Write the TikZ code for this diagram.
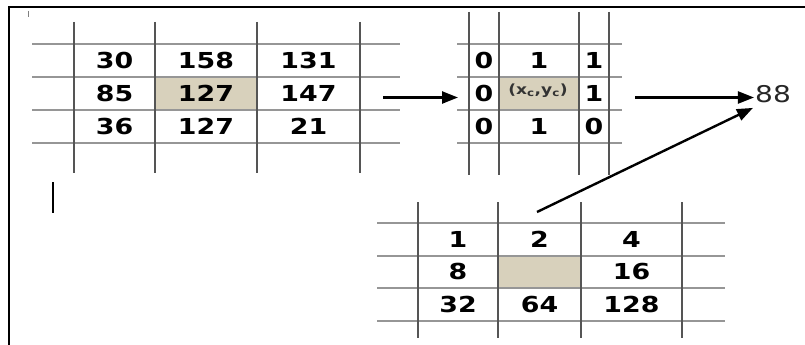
\documentclass[tikz,border=0pt]{standalone}
\usepackage{fontspec}
\newfontfamily\numfont{DejaVu Sans}[FakeStretch=1.22]
\usetikzlibrary{arrows.meta}
\definecolor{cellbg}{RGB}{216,209,188}
\definecolor{hline}{RGB}{150,150,150}
\definecolor{vline}{RGB}{85,85,85}

\begin{document}
\begin{tikzpicture}[x=1pt,y=-1pt,
    num/.style={font=\numfont\bfseries\fontsize{22}{22}\selectfont,inner sep=0pt},
    hrule/.style={draw=hline,line width=1.2pt},
    vrule/.style={draw=vline,line width=1.2pt},
    arr/.style={line width=2.4pt,-{Triangle[length=16pt,width=12pt]}}]
  \useasboundingbox (0,0) rectangle (805,345);
  % frame and cursor marks
  \draw[line width=2pt] (9,345) -- (9,7) -- (805,7);
  \draw[line width=1.6pt] (53,182) -- (53,213);
  \draw[gray,line width=0.6pt] (28,11) -- (28,17);
  % image pixels
  \fill[cellbg] (155,77) rectangle (257,110);
  \foreach \y in {44,77,110,143} \draw[hrule] (32,\y) -- (400,\y);
  \foreach \x in {74,155,257,360} \draw[vrule] (\x,22) -- (\x,173);
  \foreach \a/\b/\c [count=\r] in {30/158/131,85/127/147,36/127/21}{
    \node[num] (p\r1) at (114.5,{27.5+33*\r}) {\a};
    \node[num] (p\r2) at (206,{27.5+33*\r}) {\b};
    \node[num] (p\r3) at (308.5,{27.5+33*\r}) {\c};
  }
  % thresholded neighbourhood
  \fill[cellbg] (499,77) rectangle (579,110);
  \foreach \y in {44,77,110,143} \draw[hrule] (457,\y) -- (622,\y);
  \foreach \x in {469,499,579,609} \draw[vrule] (\x,12) -- (\x,175);
  \foreach \a/\b/\c [count=\r] in {0/1/1,0/{}/1,0/1/0}{
    \node[num] (q\r1) at (484,{27.5+33*\r}) {\a};
    \node[num] (q\r2) at (539,{27.5+33*\r}) {\b};
    \node[num] (q\r3) at (594,{27.5+33*\r}) {\c};
  }
  \node[font=\numfont\bfseries\fontsize{14}{14}\selectfont,text=black!80,inner sep=0pt] (ctr) at (538,91)
    {(x\textsubscript{c},y\textsubscript{c})};
  % weights
  \fill[cellbg] (498,256) rectangle (581,288);
  \foreach \y in {223,256,288,321} \draw[hrule] (377,\y) -- (725,\y);
  \foreach \x in {418,498,581,682} \draw[vrule] (\x,202) -- (\x,338);
  \foreach \a/\b/\c [count=\r] in {1/2/4,8/{}/16,32/64/128}{
    \node[num] (w\r1) at (458,{206.5+32.5*\r}) {\a};
    \node[num] (w\r2) at (539.5,{206.5+32.5*\r}) {\b};
    \node[num] (w\r3) at (631.5,{206.5+32.5*\r}) {\c};
  }
  % result
  \node[font=\numfont\fontsize{23}{23}\selectfont,text=black!85,inner sep=1pt] (res) at (773,94) {88};
  \coordinate (in1) at (383,97.5);
  \coordinate (in2) at (458,97.5);
  \coordinate (out) at (635,97.5);
  \coordinate (wt) at (537,212);
  \draw[arr] (in1) -- (in2);
  \draw[arr] (out) -- (out -| res.west);
  \draw[arr] (wt) -- ([xshift=-1pt,yshift=-4pt]res.south west);
\end{tikzpicture}
\end{document}
